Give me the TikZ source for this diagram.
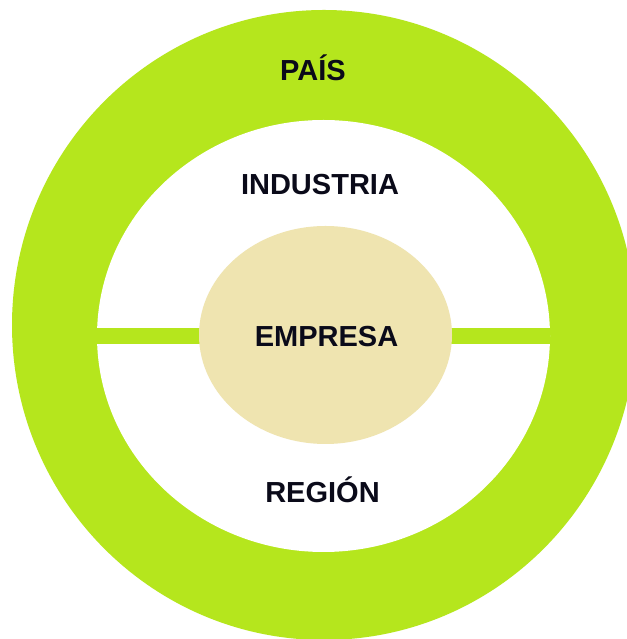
\documentclass[tikz,border=0pt]{standalone}
\usepackage{fontspec}
\setmainfont{Liberation Sans}
\usetikzlibrary{shapes.geometric}
\definecolor{lime}{RGB}{181,230,29}
\definecolor{tan}{RGB}{239,228,176}
\definecolor{ink}{RGB}{10,10,25}
\tikzset{
  ring/.style={ellipse, inner sep=0pt, fill=lime, draw=none},
  hole/.style={ellipse, inner sep=0pt, fill=white, draw=none},
  core/.style={ellipse, inner sep=0pt, fill=tan, draw=none},
  bar/.style={draw=lime, line width=16pt},
  lbl/.style={anchor=base, inner sep=0pt, text=ink, font=\fontsize{29}{31}\selectfont\bfseries}
}
\begin{document}
\begin{tikzpicture}[x=1pt,y=1pt]
\useasboundingbox (0,0) rectangle (626,639);
\fill[white] (0,0) rectangle (626,639);
\node[ring, minimum width=624pt, minimum height=630pt] (pais) at (324,314) {};
\node[hole, minimum width=453pt, minimum height=432pt] (region) at (323.5,303) {};
\draw[bar] (region.west) -- (region.east);
\node[core, minimum width=253pt, minimum height=218pt] (empresa) at (325.5,304) {};
\node[lbl] (tpais) at (313,558) {PAÍS};
\node[lbl] (tind) at (320,444) {INDUSTRIA};
\node[lbl] (temp) at (326.5,292) {EMPRESA};
\node[lbl] (treg) at (322.5,136) {REGIÓN};
\end{tikzpicture}
\end{document}
